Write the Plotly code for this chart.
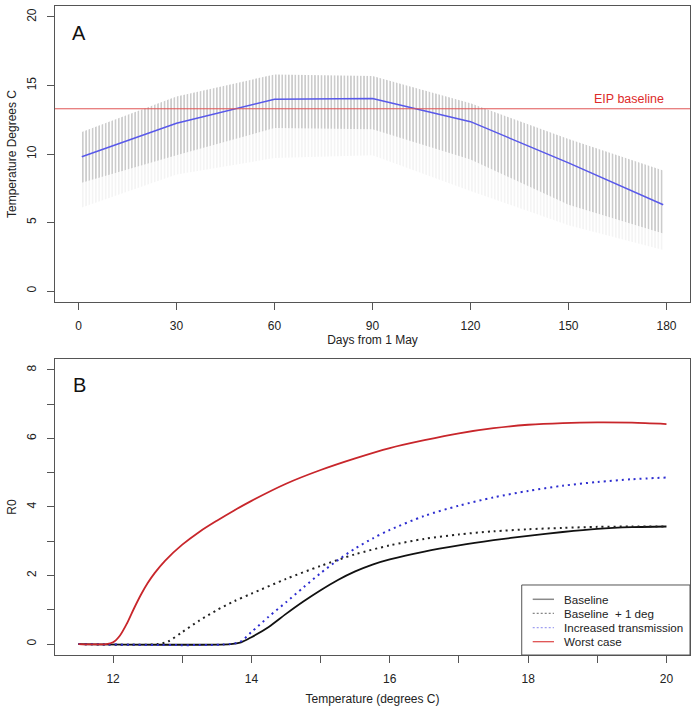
import plotly.graph_objects as go
from plotly.subplots import make_subplots

# ---------------- Panel A data ----------------
days = [1, 30, 60, 90, 120, 150, 179]
mean_temp = [9.8, 12.24, 14.0, 14.05, 12.36, 9.35, 6.3]
upper_temp = [11.6, 14.2, 15.8, 15.7, 13.7, 11.1, 8.8]
dark_lower_temp = [7.9, 9.9, 11.9, 11.8, 9.6, 6.3, 4.2]
faint_lower_temp = [6.1, 8.5, 9.7, 9.9, 7.3, 4.8, 3.0]
eip_baseline = 13.3
eip_label = "EIP baseline"
x_ticks_a = [0, 30, 60, 90, 120, 150, 180]
y_ticks_a = [0, 5, 10, 15, 20]

# ---------------- Panel B data ----------------
t_baseline = [11.5, 13.7, 13.85, 14.0, 14.25, 14.5, 14.75, 15.0, 15.25, 15.5, 15.75, 16.0,
              16.5, 17.0, 17.5, 18.0, 18.5, 19.0, 19.5, 20.0]
r_baseline = [0, 0, 0.05, 0.2, 0.5, 0.88, 1.24, 1.57, 1.87, 2.12, 2.32, 2.47,
              2.7, 2.88, 3.03, 3.16, 3.27, 3.36, 3.41, 3.43]

t_plus1 = [11.5, 12.65, 12.8, 13.0, 13.25, 13.5, 13.75, 14.0, 14.5, 15.0, 15.5, 16.0,
           16.5, 17.0, 17.5, 18.0, 18.5, 19.0, 19.5, 20.0]
r_plus1 = [0, 0, 0.08, 0.35, 0.69, 0.99, 1.25, 1.47, 1.9, 2.28, 2.62, 2.88,
           3.07, 3.2, 3.29, 3.35, 3.39, 3.42, 3.43, 3.43]

t_trans = [11.5, 13.7, 13.85, 14.0, 14.25, 14.5, 14.75, 15.0, 15.25, 15.5, 15.75, 16.0,
           16.5, 17.0, 17.5, 18.0, 18.5, 19.0, 19.5, 20.0]
r_trans = [0, 0, 0.08, 0.35, 0.8, 1.22, 1.65, 2.07, 2.45, 2.79, 3.08, 3.33,
           3.74, 4.04, 4.28, 4.47, 4.62, 4.73, 4.81, 4.86]

t_worst = [11.5, 11.9, 12.0, 12.1, 12.2, 12.3, 12.4, 12.5, 12.6, 12.75, 13.0, 13.25, 13.5,
           13.75, 14.0, 14.5, 15.0, 15.5, 16.0, 16.5, 17.0, 17.5, 18.0, 18.5, 19.0, 19.5, 20.0]
r_worst = [0, 0, 0.05, 0.25, 0.6, 1.03, 1.43, 1.78, 2.07, 2.43, 2.9, 3.28, 3.6,
           3.9, 4.18, 4.68, 5.08, 5.42, 5.72, 5.95, 6.15, 6.3, 6.4, 6.45, 6.47, 6.46, 6.42]

series_names = ["Baseline", "Baseline  + 1 deg", "Increased transmission", "Worst case"]
x_ticks_b = [12, 13, 14, 15, 16, 17, 18, 19, 20]
x_ticktext_b = ["12", "", "14", "", "16", "", "18", "", "20"]
y_ticks_b = [0, 1, 2, 3, 4, 5, 6, 7, 8]
y_ticktext_b = ["0", "", "2", "", "4", "", "6", "", "8"]

FONT = "Liberation Sans, Arial, sans-serif"
AXC = "#555555"
TXT = "#222222"

fig = make_subplots(rows=2, cols=1, vertical_spacing=0.0878)

# Panel A: faint lower part of the daily ranges
fig.add_trace(go.Scatter(x=days, y=faint_lower_temp, mode="lines", line=dict(width=0),
                         showlegend=False, hoverinfo="skip"), row=1, col=1)
fig.add_trace(go.Scatter(x=days, y=dark_lower_temp, mode="lines", line=dict(width=0),
                         fill="tonexty", fillcolor="rgba(0,0,0,0)",
                         fillpattern=dict(shape="|", size=3.27, solidity=0.4,
                                          fgcolor="#e4e4e4", bgcolor="rgba(0,0,0,0)"),
                         showlegend=False, hoverinfo="skip"), row=1, col=1)
fig.add_trace(go.Scatter(x=days, y=upper_temp, mode="lines", line=dict(width=0),
                         fill="tonexty", fillcolor="rgba(0,0,0,0)",
                         fillpattern=dict(shape="|", size=3.27, solidity=0.5,
                                          fgcolor="#999999", bgcolor="rgba(0,0,0,0)"),
                         showlegend=False, hoverinfo="skip"), row=1, col=1)
fig.add_trace(go.Scatter(x=days, y=mean_temp, mode="lines",
                         line=dict(color="#5858ea", width=1.5),
                         showlegend=False), row=1, col=1)

fig.add_shape(type="line", xref="x domain", yref="y", x0=0, x1=1,
              y0=eip_baseline, y1=eip_baseline,
              line=dict(color="#e05555", width=1))
fig.add_annotation(x=180, y=eip_baseline, xref="x", yref="y", text=eip_label,
                   showarrow=False, xanchor="right", yanchor="bottom", yshift=1,
                   font=dict(family=FONT, size=12.5, color="#dd2a2a"))

# Panel B curves
line_styles = [
    dict(color="#111111", width=1.8, shape="spline", smoothing=0.8),
    dict(color="#222222", width=2, dash="2px,4px", shape="spline", smoothing=0.8),
    dict(color="#2d2dd0", width=2, dash="2px,4px", shape="spline", smoothing=0.8),
    dict(color="#c8262b", width=1.8, shape="spline", smoothing=0.8),
]
for tx, ry, nm, ls in zip([t_baseline, t_plus1, t_trans, t_worst],
                          [r_baseline, r_plus1, r_trans, r_worst],
                          series_names, line_styles):
    fig.add_trace(go.Scatter(x=tx, y=ry, mode="lines", name=nm, line=ls,
                             showlegend=False), row=2, col=1)

# Legend (drawn as a boxed key in the lower right of panel B)
legend_sample = [
    dict(color="#8a8a8a", width=1.5),
    dict(color="#666666", width=1, dash="2px,2px"),
    dict(color="#8888ee", width=1, dash="2px,2px"),
    dict(color="#dd4444", width=1.2),
]
fig.add_shape(type="rect", xref="x2 domain", yref="y2 domain", x0=0.735, x1=1.0,
              y0=0.0, y1=0.2365, line=dict(color=AXC, width=1), fillcolor="white",
              layer="above")
legend_rows = [0.1882, 0.1409, 0.0922, 0.0449]
for yy, nm, ls in zip(legend_rows, series_names, legend_sample):
    fig.add_shape(type="line", xref="x2 domain", yref="y2 domain", x0=0.7523, x1=0.7858,
                  y0=yy, y1=yy, line=ls, layer="above")
    fig.add_annotation(x=0.799, y=yy, xref="x2 domain", yref="y2 domain", text=nm,
                       showarrow=False, xanchor="left", yanchor="middle",
                       font=dict(family=FONT, size=11.6, color=TXT))

fig.add_annotation(x=0.038, y=0.909, xref="x domain", yref="y domain", text="A",
                   showarrow=False, xanchor="center", yanchor="middle",
                   font=dict(family=FONT, size=20, color="#111111"))
fig.add_annotation(x=0.038, y=0.912, xref="x2 domain", yref="y2 domain", text="B",
                   showarrow=False, xanchor="center", yanchor="middle",
                   font=dict(family=FONT, size=20, color="#111111"))

axis_common = dict(showgrid=False, zeroline=False, showline=True, mirror=True,
                   linecolor=AXC, linewidth=1, ticks="outside", ticklen=7,
                   tickcolor=AXC, tickwidth=1, automargin=False,
                   tickfont=dict(family=FONT, size=12, color=TXT))

fig.update_xaxes(**axis_common)
fig.update_yaxes(**axis_common)

fig.update_xaxes(range=[-7.2, 187.2], tickvals=x_ticks_a, ticktext=[str(v) for v in x_ticks_a],
                 ticklabelstandoff=6,
                 title=dict(text="Days from 1 May", standoff=3,
                            font=dict(family=FONT, size=12, color=TXT)),
                 row=1, col=1)
fig.update_yaxes(range=[-0.8, 20.8], tickvals=y_ticks_a, ticktext=[str(v) for v in y_ticks_a],
                 tickangle=-90, ticklabelstandoff=6,
                 title=dict(text="Temperature Degrees C", standoff=5,
                            font=dict(family=FONT, size=12, color=TXT)),
                 row=1, col=1)
fig.update_xaxes(range=[11.16, 20.34], tickvals=x_ticks_b, ticktext=x_ticktext_b,
                 ticklabelstandoff=6,
                 title=dict(text="Temperature (degrees C)", standoff=9,
                            font=dict(family=FONT, size=12, color=TXT)),
                 row=2, col=1)
fig.update_yaxes(range=[-0.32, 8.32], tickvals=y_ticks_b, ticktext=y_ticktext_b,
                 tickangle=-90, ticklabelstandoff=6,
                 title=dict(text="R0", standoff=5,
                            font=dict(family=FONT, size=12, color=TXT)),
                 row=2, col=1)

fig.update_layout(
    width=697, height=706,
    margin=dict(l=55, r=7, t=6, b=51),
    paper_bgcolor="white", plot_bgcolor="white",
    font=dict(family=FONT, size=12, color=TXT),
    showlegend=False,
)
fig.update_layout(yaxis=dict(domain=[0.5439, 1.0]), yaxis2=dict(domain=[0.0, 0.4561]))

fig.write_html("out.html", config={"displayModeBar": False},
               post_script="document.body.style.margin='0';document.body.style.padding='0';")
